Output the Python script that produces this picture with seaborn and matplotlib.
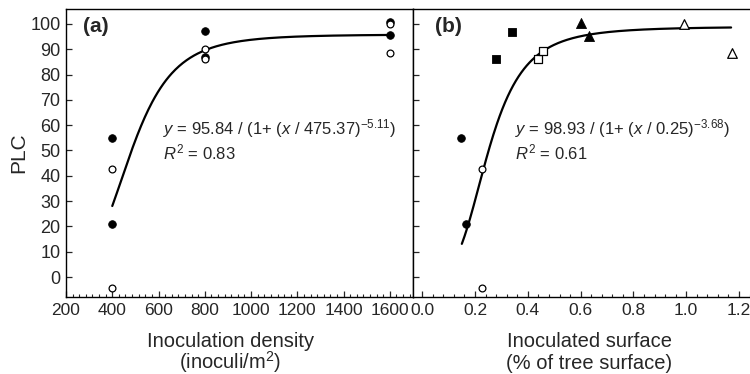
import numpy as np
import pandas as pd
import matplotlib
matplotlib.use("Agg")
import matplotlib.pyplot as plt
from matplotlib.ticker import MultipleLocator, AutoMinorLocator, FormatStrFormatter
import seaborn as sns

# panel (a): PLC vs inoculation density
dens_filled_x = [400, 400, 800, 800, 1600, 1600]
dens_filled_y = [54.8, 20.9, 97.2, 87.1, 100.6, 95.7]
dens_open_x = [400, 400, 800, 800, 1600, 1600]
dens_open_y = [42.7, -4.5, 90.0, 86.0, 100.0, 88.7]

# panel (b): PLC vs inoculated surface
circ_filled_x = [0.145, 0.165]
circ_filled_y = [54.8, 20.9]
circ_open_x = [0.225, 0.225]
circ_open_y = [42.7, -4.5]
sq_filled_x = [0.280, 0.341]
sq_filled_y = [86.0, 96.7]
sq_open_x = [0.439, 0.459]
sq_open_y = [86.0, 89.4]
tri_filled_x = [0.600, 0.633]
tri_filled_y = [100.3, 95.4]
tri_open_x = [0.991, 1.172]
tri_open_y = [100.0, 88.7]

# fitted curves, parameters as printed on the chart
fit_a = (95.84, 475.37, -5.11)
fit_b = (98.93, 0.25, -3.68)
fit_a_range = (400, 1600)
fit_b_range = (0.15, 1.17)

sns.set_style("ticks")
plt.rcParams['font.family'] = ['Liberation Sans', 'DejaVu Sans']
plt.rcParams['mathtext.fontset'] = 'custom'
plt.rcParams['mathtext.rm'] = 'Liberation Sans'
plt.rcParams['mathtext.it'] = 'Liberation Sans:italic'
plt.rcParams['mathtext.bf'] = 'Liberation Sans:bold'

fig = plt.figure(figsize=(7.5, 3.74), dpi=100)
ax1 = fig.add_axes([66 / 750, 77 / 374, 347 / 750, 288.5 / 374])
ax2 = fig.add_axes([413 / 750, 77 / 374, 344.5 / 750, 288.5 / 374])


def logistic(x, p):
    a, x0, b = p
    return a / (1 + (x / x0) ** b)


def scatter(ax, xs, ys, marker, filled, size):
    df = pd.DataFrame({"x": xs, "y": ys})
    if filled:
        sns.scatterplot(data=df, x="x", y="y", ax=ax, marker=marker, s=size,
                        color="black", edgecolor="black", linewidth=0.6, zorder=3)
    else:
        sns.scatterplot(data=df, x="x", y="y", ax=ax, marker=marker, s=size,
                        color="white", edgecolor="black", linewidth=0.9, zorder=4)


# curves
xa = np.linspace(*fit_a_range, 300)
sns.lineplot(x=xa, y=logistic(xa, fit_a), ax=ax1, color="black", lw=1.6, zorder=2)
xb = np.linspace(*fit_b_range, 300)
sns.lineplot(x=xb, y=logistic(xb, fit_b), ax=ax2, color="black", lw=1.6, zorder=2)

scatter(ax1, dens_filled_x, dens_filled_y, "o", True, 30)
scatter(ax1, dens_open_x, dens_open_y, "o", False, 24)

scatter(ax2, circ_filled_x, circ_filled_y, "o", True, 30)
scatter(ax2, circ_open_x, circ_open_y, "o", False, 24)
scatter(ax2, sq_filled_x, sq_filled_y, "s", True, 36)
scatter(ax2, sq_open_x, sq_open_y, "s", False, 32)
scatter(ax2, tri_filled_x, tri_filled_y, "^", True, 52)
scatter(ax2, tri_open_x, tri_open_y, "^", False, 48)

for ax in (ax1, ax2):
    ax.set_ylim(-7.9, 106.1)
    ax.yaxis.set_major_locator(MultipleLocator(10))
    ax.tick_params(direction="in", length=4, width=0.9, pad=4)
    ax.tick_params(axis="y", labelsize=13)
    ax.tick_params(axis="x", labelsize=12.5)
    ax.tick_params(which="minor", direction="in", length=2.2, width=0.8)
    ax.set_xlabel("")
    ax.set_ylabel("")
    for sp in ax.spines.values():
        sp.set_visible(True)
        sp.set_linewidth(1.0)
        sp.set_color("black")

ax1.set_xlim(200, 1700)
ax1.xaxis.set_major_locator(MultipleLocator(200))
ax1.xaxis.set_minor_locator(AutoMinorLocator(7))
ax1.set_ylabel("PLC", fontsize=15)
ax1.yaxis.set_label_coords(-0.11, 0.5)

ax2.set_xlim(-0.035, 1.27)
ax2.xaxis.set_major_locator(MultipleLocator(0.2))
ax2.xaxis.set_minor_locator(MultipleLocator(0.04))
ax2.xaxis.set_major_formatter(FormatStrFormatter("%.1f"))
ax2.tick_params(axis="y", labelleft=False)

# two-line axis titles, each line placed on its own baseline
xlab = {ax1: (0.473, "Inoculation density", "(inoculi/m$^2$)"),
        ax2: (0.511, "Inoculated surface", "(% of tree surface)")}
for ax, (cx, line1, line2) in xlab.items():
    ax.text(cx, -0.173, line1, transform=ax.transAxes, fontsize=14.5,
            ha="center", va="baseline", clip_on=False)
    ax.text(cx, -0.250, line2, transform=ax.transAxes, fontsize=14.5,
            ha="center", va="baseline", clip_on=False)

ax1.text(273, 99, "(a)", fontsize=15, fontweight="bold", va="center", ha="left")
ax2.text(0.048, 99, "(b)", fontsize=15, fontweight="bold", va="center", ha="left")

ax1.text(619, 56.5, r"$y$ = 95.84 / (1+ ($x$ / 475.37$)^{-5.11}$)", fontsize=12,
         va="baseline", ha="left")
ax1.text(619, 46.6, r"$R^2$ = 0.83", fontsize=12, va="baseline", ha="left")
ax2.text(0.352, 56.5, r"$y$ = 98.93 / (1+ ($x$ / 0.25$)^{-3.68}$)", fontsize=12,
         va="baseline", ha="left")
ax2.text(0.352, 46.6, r"$R^2$ = 0.61", fontsize=12, va="baseline", ha="left")

plt.savefig("out.png", dpi=100)
